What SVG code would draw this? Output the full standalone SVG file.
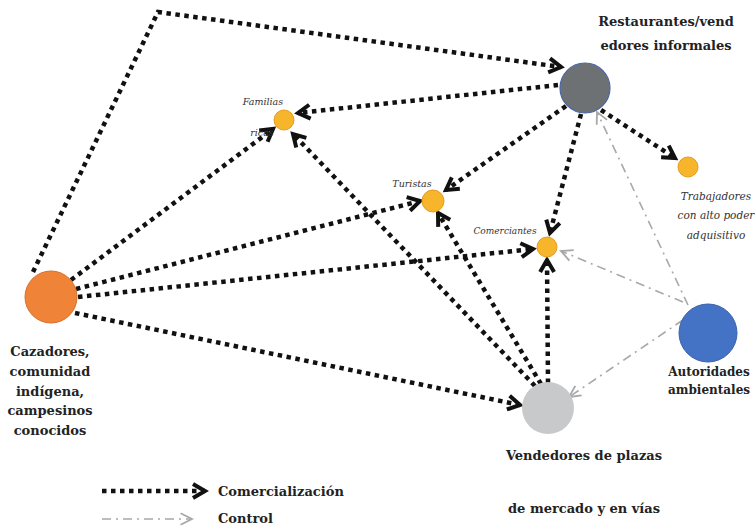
<svg xmlns="http://www.w3.org/2000/svg" width="755" height="527" viewBox="0 0 755 527">
<style>
.com{fill:none;stroke:#111;stroke-width:4.5;stroke-dasharray:4.5 4.5;marker-end:url(#ah)}
.ctl{fill:none;stroke:#a8a8a8;stroke-width:1.6;stroke-dasharray:9 5 2 5;marker-end:url(#ag)}
.lb{font-family:"DejaVu Serif",serif;font-weight:bold;font-size:13px;fill:#222;text-anchor:middle}
.it{font-family:"DejaVu Serif",serif;font-style:italic;font-size:9.5px;fill:#333;text-anchor:middle}
.y{fill:#f6b52b;stroke:#e39d1e;stroke-width:1}
</style>
<defs>
<marker id="ah" markerUnits="userSpaceOnUse" markerWidth="20" markerHeight="20" refX="14" refY="8" orient="auto" viewBox="0 0 20 16">
<path d="M2,1 L14,8 L2,15" fill="none" stroke="#111" stroke-width="4" stroke-linejoin="miter"/>
</marker>
<marker id="ag" markerUnits="userSpaceOnUse" markerWidth="16" markerHeight="16" refX="12" refY="6" orient="auto" viewBox="0 0 14 12">
<path d="M2,1 L12,6 L2,11" fill="none" stroke="#a8a8a8" stroke-width="1.6"/>
</marker>
</defs>
<g id="connectors">
<polyline class="com" points="33,272 158,12 561,67"/>
<line class="com" x1="558" y1="85" x2="298" y2="113"/>
<line class="com" x1="566" y1="106" x2="446" y2="190"/>
<line class="com" x1="581" y1="114" x2="550" y2="233"/>
<line class="com" x1="601" y1="110" x2="675" y2="158"/>
<line class="com" x1="71" y1="280" x2="273" y2="129"/>
<line class="com" x1="76" y1="289" x2="420" y2="201"/>
<line class="com" x1="78" y1="297" x2="533" y2="249"/>
<line class="com" x1="75" y1="313" x2="520" y2="405"/>
<line class="com" x1="535" y1="386" x2="293" y2="134"/>
<line class="com" x1="541" y1="384" x2="438" y2="213"/>
<line class="com" x1="548" y1="383" x2="547" y2="260"/>
<line class="ctl" x1="688" y1="305" x2="597" y2="112"/>
<line class="ctl" x1="683" y1="302" x2="561" y2="251"/>
<line class="ctl" x1="683" y1="320" x2="569" y2="397"/>
</g>
<g id="n-cazadores">
<circle cx="51" cy="297" r="26" fill="#ef8338" stroke="#d9702a" stroke-width="1"/>
<text class="lb" x="50" y="356">Cazadores,</text>
<text class="lb" x="50" y="376">comunidad</text>
<text class="lb" x="50" y="396">indígena,</text>
<text class="lb" x="50" y="415">campesinos</text>
<text class="lb" x="50" y="435">conocidos</text>
</g>
<g id="n-restaurantes">
<circle cx="585" cy="88" r="25" fill="#6d7173" stroke="#4a66a8" stroke-width="1.2"/>
<text class="lb" x="666" y="26">Restaurantes/vend</text>
<text class="lb" x="666" y="50">edores informales</text>
</g>
<g id="n-familias">
<text class="it" x="263" y="105">Familias</text>
<text class="it" x="262" y="136">ricas</text>
<circle cx="284" cy="120" r="10" class="y"/>
</g>
<g id="n-turistas">
<text class="it" x="412" y="187">Turistas</text>
<circle cx="433" cy="201" r="11" class="y"/>
</g>
<g id="n-comerciantes">
<text class="it" x="505" y="234" style="font-size:9px">Comerciantes</text>
<circle cx="547" cy="247" r="10" class="y"/>
</g>
<g id="n-trabajadores">
<circle cx="688" cy="167" r="10" class="y"/>
<text class="it" x="716" y="200" style="font-size:10.5px">Trabajadores</text>
<text class="it" x="716" y="219" style="font-size:10.5px">con alto poder</text>
<text class="it" x="716" y="239" style="font-size:10.5px">adquisitivo</text>
</g>
<g id="n-autoridades">
<circle cx="708" cy="333" r="29" fill="#4472c4" stroke="#3a62ad" stroke-width="1"/>
<text class="lb" x="709" y="376" style="font-size:12px">Autoridades</text>
<text class="lb" x="709" y="394" style="font-size:12px">ambientales</text>
</g>
<g id="n-vendedores">
<circle cx="548" cy="408" r="26" fill="#c8c9ca"/>
<text class="lb" x="584" y="460">Vendedores de plazas</text>
<text class="lb" x="584" y="513">de mercado y en vías</text>
</g>
<g id="legend">
<line class="com" x1="102" y1="491" x2="205" y2="491"/>
<text class="lb" x="218" y="496" style="text-anchor:start">Comercialización</text>
<line class="ctl" x1="102" y1="519" x2="192" y2="519"/>
<text class="lb" x="218" y="523" style="text-anchor:start">Control</text>
</g>
</svg>
